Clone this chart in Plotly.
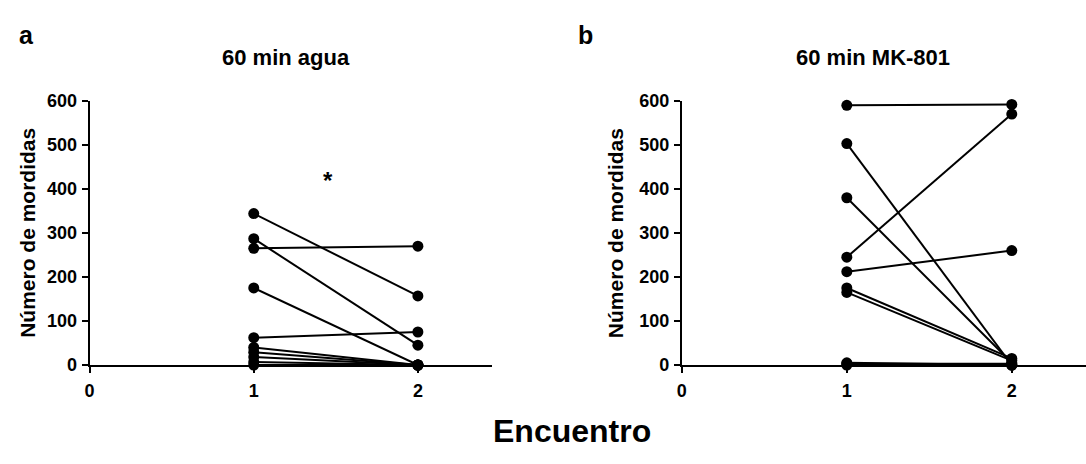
import plotly.graph_objects as go

# Bites per animal in encounter 1 and encounter 2 (paired)
encuentros = [1, 2]

agua_e1 = [344, 287, 265, 175, 62, 40, 29, 18, 7, 0]
agua_e2 = [157, 45, 270, 0, 75, 0, 0, 0, 0, 0]

mk801_e1 = [590, 503, 380, 245, 212, 175, 165, 5, 3, 0]
mk801_e2 = [592, 0, 5, 570, 260, 15, 10, 0, 3, 0]

x_ticks = [0, 1, 2]
y_ticks = [0, 100, 200, 300, 400, 500, 600]

W, H = 1086, 464
FONT = "Liberation Sans, Arial, sans-serif"

fig = go.Figure()


def add_pairs(e1, e2, xa, ya):
    for a, b in zip(e1, e2):
        fig.add_trace(go.Scatter(
            x=encuentros, y=[a, b], mode="lines+markers",
            line=dict(color="black", width=2),
            marker=dict(color="black", size=11),
            cliponaxis=False, showlegend=False,
            xaxis=xa, yaxis=ya,
        ))


add_pairs(agua_e1, agua_e2, "x", "y")
add_pairs(mk801_e1, mk801_e2, "x2", "y2")

y0, y1 = 1 - 371 / H, 1 - 95 / H

axis_common = dict(
    showline=True, linecolor="black", linewidth=2,
    ticks="outside", ticklen=6, tickwidth=2, tickcolor="black",
    showgrid=False, zeroline=False,
    tickfont=dict(family=FONT, size=18, color="black", weight="bold"),
)

fig.update_layout(
    width=W, height=H,
    margin=dict(l=0, r=0, t=0, b=0),
    paper_bgcolor="white", plot_bgcolor="white",
    xaxis=dict(domain=[85 / W, 489 / W], range=[0, 2.45],
               tickvals=x_ticks, anchor="y", ticklabelstandoff=2,
               **axis_common),
    yaxis=dict(domain=[y0, y1], range=[0, 600], tickvals=y_ticks,
               anchor="x", ticklabelstandoff=1, **axis_common),
    xaxis2=dict(domain=[680 / W, 1.0], range=[0, 2.45],
                tickvals=x_ticks, anchor="y2", ticklabelstandoff=2,
                **axis_common),
    yaxis2=dict(domain=[y0, y1], range=[0, 600], tickvals=y_ticks,
                anchor="x2", ticklabelstandoff=1, **axis_common),
)

ann_font = dict(family=FONT, color="black", weight="bold")
annotations = [
    dict(text="a", x=12 / W, y=1 - 26 / H, xanchor="left", yanchor="middle",
         font=dict(size=25, **ann_font)),
    dict(text="b", x=574 / W, y=1 - 26 / H, xanchor="left", yanchor="middle",
         font=dict(size=25, **ann_font)),
    dict(text="60 min agua", x=282 / W, y=1 - 50 / H, xanchor="center",
         yanchor="middle", font=dict(size=22, **ann_font)),
    dict(text="60 min MK-801", x=872 / W, y=1 - 50 / H, xanchor="center",
         yanchor="middle", font=dict(size=22, **ann_font)),
    dict(text="Número de mordidas", x=23 / W, y=(y0 + y1) / 2, textangle=-90,
         xanchor="center", yanchor="middle", font=dict(size=21, **ann_font)),
    dict(text="Número de mordidas", x=614 / W, y=(y0 + y1) / 2, textangle=-90,
         xanchor="center", yanchor="middle", font=dict(size=21, **ann_font)),
    dict(text="Encuentro", x=570 / W, y=1 - 440 / H, xanchor="center",
         yanchor="middle", font=dict(size=32, **ann_font)),
    dict(text="*", x=1.45, y=420, xref="x", yref="y", showarrow=False,
         font=dict(size=24, **ann_font)),
]
for a in annotations:
    a.setdefault("xref", "paper")
    a.setdefault("yref", "paper")
    a["showarrow"] = False
fig.update_layout(annotations=annotations)

fig.write_html("out.html")
